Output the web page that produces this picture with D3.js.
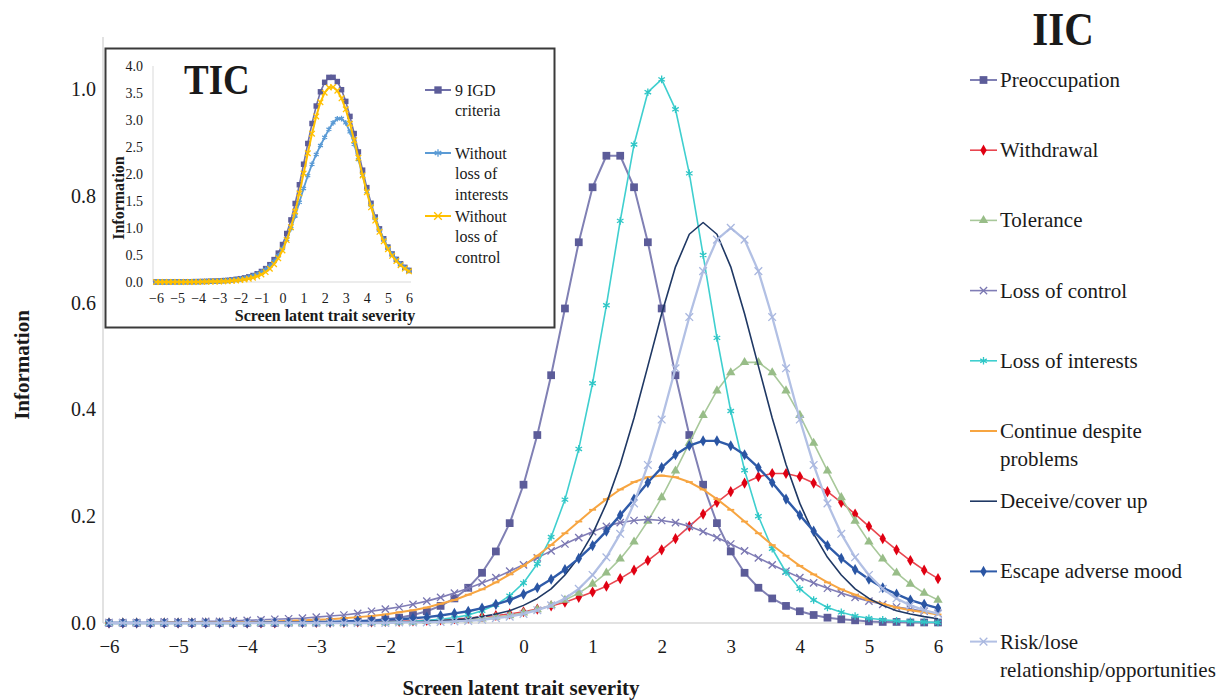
<!DOCTYPE html>
<html>
<head>
<meta charset="utf-8">
<script src="https://cdn.jsdelivr.net/npm/d3@7"></script>
<style>
  body { margin: 0; background: #fff; }
  text { font-family: "Liberation Serif", "Times New Roman", serif; fill: #1a1a1a; }
</style>
</head>
<body>
<svg id="chart" width="1229" height="700"></svg>
<script>
// latent trait grid (step 0.2)
const theta = [-6,-5.8,-5.6,-5.4,-5.2,-5,-4.8,-4.6,-4.4,-4.2,
  -4,-3.8,-3.6,-3.4,-3.2,-3,-2.8,-2.6,-2.4,-2.2,
  -2,-1.8,-1.6,-1.4,-1.2,-1,-0.8,-0.6,-0.4,-0.2,
  0,0.2,0.4,0.6,0.8,1,1.2,1.4,1.6,1.8,
  2,2.2,2.4,2.6,2.8,3,3.2,3.4,3.6,3.8,
  4,4.2,4.4,4.6,4.8,5,5.2,5.4,5.6,5.8,
  6];
const xTicks = [-6,-5,-4,-3,-2,-1,0,1,2,3,4,5,6];
const yTicks = [0, 0.2, 0.4, 0.6, 0.8, 1.0];
const insetYTicks = [0, 0.5, 1, 1.5, 2, 2.5, 3, 3.5, 4];

// item information curves (IIC)
const preoccupation = [0,0,0,0,0,0,0,0,0,0,
  0,0,0,0.001,0.001,0.001,0.002,0.002,0.003,0.005,
  0.007,0.010,0.015,0.022,0.032,0.046,0.066,0.094,0.134,0.187,
  0.259,0.352,0.464,0.589,0.713,0.816,0.875,0.875,0.816,0.713,
  0.589,0.464,0.352,0.259,0.187,0.134,0.094,0.066,0.046,0.032,
  0.022,0.015,0.010,0.007,0.005,0.003,0.002,0.002,0.001,0.001,
  0.001];
const withdrawal = [0,0,0,0,0,0,0,0,0,0,
  0,0,0,0.001,0.001,0.001,0.001,0.001,0.002,0.002,
  0.003,0.003,0.004,0.005,0.006,0.008,0.009,0.012,0.014,0.017,
  0.021,0.026,0.032,0.039,0.048,0.058,0.069,0.083,0.099,0.117,
  0.137,0.158,0.181,0.204,0.226,0.246,0.262,0.274,0.280,0.280,
  0.274,0.262,0.246,0.226,0.204,0.181,0.158,0.137,0.117,0.099,
  0.083];
const tolerance = [0,0,0,0,0,0,0,0,0,0,
  0,0,0,0,0,0,0,0,0.001,0.001,
  0.001,0.002,0.002,0.003,0.004,0.005,0.006,0.008,0.011,0.014,
  0.019,0.025,0.033,0.043,0.056,0.073,0.094,0.120,0.152,0.191,
  0.235,0.285,0.337,0.389,0.435,0.469,0.488,0.488,0.469,0.435,
  0.389,0.337,0.285,0.235,0.191,0.152,0.120,0.094,0.073,0.056,
  0.043];
const lossOfControl = [0.001,0.001,0.001,0.001,0.002,0.002,0.002,0.003,0.003,0.004,
  0.005,0.006,0.007,0.008,0.009,0.011,0.013,0.015,0.018,0.022,
  0.026,0.030,0.035,0.041,0.048,0.056,0.065,0.075,0.085,0.097,
  0.109,0.122,0.135,0.148,0.160,0.171,0.181,0.188,0.192,0.194,
  0.192,0.188,0.181,0.171,0.160,0.148,0.135,0.122,0.109,0.097,
  0.085,0.075,0.065,0.056,0.048,0.041,0.035,0.030,0.026,0.022,
  0.018];
const lossOfInterests = [0,0,0,0,0,0,0,0,0,0,
  0,0,0,0,0,0,0,0,0.001,0.001,
  0.001,0.002,0.003,0.005,0.007,0.010,0.015,0.023,0.034,0.051,
  0.075,0.111,0.161,0.231,0.326,0.449,0.595,0.753,0.896,0.994,
  1.018,0.962,0.842,0.689,0.534,0.397,0.286,0.200,0.139,0.095,
  0.064,0.043,0.029,0.020,0.013,0.009,0.006,0.004,0.003,0.002,
  0.001];
const continueDespite = [0,0,0,0,0.001,0.001,0.001,0.001,0.001,0.002,
  0.002,0.002,0.003,0.004,0.005,0.006,0.007,0.009,0.011,0.013,
  0.016,0.020,0.024,0.029,0.036,0.043,0.053,0.063,0.076,0.091,
  0.107,0.126,0.146,0.168,0.190,0.212,0.232,0.250,0.264,0.273,
  0.276,0.273,0.264,0.250,0.232,0.212,0.190,0.168,0.146,0.126,
  0.107,0.091,0.076,0.063,0.053,0.043,0.036,0.029,0.024,0.020,
  0.016];
const deceive = [0,0,0,0,0,0,0,0,0,0,
  0,0,0,0,0,0,0,0,0,0.001,
  0.001,0.001,0.002,0.003,0.004,0.006,0.008,0.012,0.017,0.023,
  0.033,0.046,0.064,0.090,0.123,0.167,0.224,0.297,0.384,0.481,
  0.579,0.667,0.728,0.750,0.728,0.667,0.579,0.481,0.384,0.297,
  0.224,0.167,0.123,0.090,0.064,0.046,0.033,0.023,0.017,0.012,
  0.008];
const escapeMood = [0,0,0,0,0,0,0,0,0,0,
  0,0.001,0.001,0.001,0.001,0.002,0.002,0.003,0.004,0.004,
  0.006,0.007,0.009,0.011,0.014,0.018,0.022,0.028,0.035,0.043,
  0.054,0.066,0.082,0.100,0.121,0.145,0.172,0.202,0.232,0.263,
  0.291,0.315,0.332,0.341,0.341,0.332,0.315,0.291,0.263,0.232,
  0.202,0.172,0.145,0.121,0.100,0.082,0.066,0.054,0.043,0.035,
  0.028];
const riskLose = [0,0,0,0,0,0,0,0,0,0,
  0,0,0,0,0,0,0,0,0,0,
  0,0.001,0.001,0.001,0.002,0.003,0.004,0.006,0.009,0.012,
  0.017,0.024,0.033,0.046,0.064,0.090,0.123,0.167,0.224,0.296,
  0.381,0.477,0.573,0.659,0.718,0.740,0.718,0.659,0.573,0.477,
  0.381,0.296,0.224,0.167,0.123,0.090,0.064,0.046,0.033,0.024,
  0.017];

// test information curves (TIC)
const ticAll = [0.001,0.001,0.001,0.001,0.003,0.003,0.003,0.004,0.004,0.006,
  0.007,0.009,0.011,0.015,0.017,0.021,0.025,0.030,0.040,0.049,
  0.061,0.076,0.095,0.120,0.153,0.195,0.248,0.321,0.415,0.535,
  0.694,0.898,1.150,1.454,1.801,2.181,2.565,2.935,3.259,3.522,
  3.698,3.789,3.790,3.712,3.561,3.345,3.067,2.749,2.409,2.071,
  1.748,1.458,1.203,0.985,0.801,0.647,0.520,0.419,0.337,0.271,
  0.215];
const ticNoInterests = [0.001,0.001,0.001,0.001,0.003,0.003,0.003,0.004,0.004,0.006,
  0.007,0.009,0.011,0.015,0.017,0.021,0.025,0.030,0.039,0.048,
  0.060,0.074,0.092,0.115,0.146,0.185,0.233,0.298,0.381,0.484,
  0.619,0.787,0.989,1.223,1.475,1.732,1.970,2.182,2.363,2.528,
  2.680,2.827,2.948,3.023,3.027,2.948,2.781,2.549,2.270,1.976,
  1.684,1.415,1.174,0.965,0.788,0.638,0.514,0.415,0.334,0.269,
  0.214];
const ticNoControl = [0,0,0,0,0.001,0.001,0.001,0.001,0.001,0.002,
  0.002,0.003,0.004,0.007,0.008,0.010,0.012,0.015,0.022,0.027,
  0.035,0.046,0.060,0.079,0.105,0.139,0.183,0.246,0.330,0.438,
  0.585,0.776,1.015,1.306,1.641,2.010,2.384,2.747,3.067,3.328,
  3.506,3.601,3.609,3.541,3.401,3.197,2.932,2.627,2.300,1.974,
  1.663,1.383,1.138,0.929,0.753,0.606,0.485,0.389,0.311,0.249,
  0.197];

const iicSeries = [
  {name: ["Preoccupation"], values: preoccupation, line: "#8080b4", fill: "#5c5c99", marker: "square", size: 60, lw: 2},
  {name: ["Withdrawal"], values: withdrawal, line: "#e8454f", fill: "#e00012", marker: "diamond", size: 36, lw: 1.6},
  {name: ["Tolerance"], values: tolerance, line: "#a8c89a", fill: "#98bd88", marker: "triangle", size: 38, lw: 1.6},
  {name: ["Loss of control"], values: lossOfControl, line: "#807db6", fill: "#7a77b2", marker: "times", size: 36, lw: 1.6},
  {name: ["Loss of interests"], values: lossOfInterests, line: "#3fcfcf", fill: "#2ec6c6", marker: "asterisk", size: 40, lw: 1.6},
  {name: ["Continue despite", "problems"], values: continueDespite, line: "#f7a541", fill: "#f7a541", marker: "dash", size: 0, lw: 2},
  {name: ["Deceive/cover up"], values: deceive, line: "#1f3864", fill: "#1f3864", marker: "none", size: 0, lw: 1.6},
  {name: ["Escape adverse mood"], values: escapeMood, line: "#2f5ba9", fill: "#2a55a3", marker: "diamond", size: 36, lw: 2.4},
  {name: ["Risk/lose", "relationship/opportunities"], values: riskLose, line: "#b2c0e4", fill: "#a9b7df", marker: "times", size: 40, lw: 2.3}
];

const ticSeries = [
  {name: ["9 IGD", "criteria"], values: ticAll, line: "#7070a9", fill: "#5c5c99", marker: "square", size: 30, lw: 1.6},
  {name: ["Without", "loss of", "interests"], values: ticNoInterests, line: "#5b9bd5", fill: "#5b9bd5", marker: "asterisk", size: 22, lw: 1.8},
  {name: ["Without", "loss of", "control"], values: ticNoControl, line: "#ffc000", fill: "#ffc000", marker: "times", size: 22, lw: 2}
];

const svg = d3.select("#chart");

function drawMarker(g, s) {
  if (s.marker === "none") return;
  if (s.marker === "dash") {
    g.append("path").attr("d", "M-3.5,0H3.5").attr("stroke", s.fill).attr("stroke-width", 1.8);
    return;
  }
  const types = {square: d3.symbolSquare, diamond: d3.symbolDiamond, triangle: d3.symbolTriangle,
    times: d3.symbolTimes, asterisk: d3.symbolAsterisk};
  const p = g.append("path").attr("d", d3.symbol(types[s.marker], s.size)());
  if (s.marker === "times" || s.marker === "asterisk") {
    p.attr("fill", "none").attr("stroke", s.fill).attr("stroke-width", 1.3);
  } else {
    p.attr("fill", s.fill);
  }
}

function drawSeries(root, list, x, y) {
  const line = d3.line().x((d, i) => x(theta[i])).y(d => y(d));
  list.forEach(s => {
    const g = root.append("g");
    g.append("path").datum(s.values).attr("d", line)
      .attr("fill", "none").attr("stroke", s.line).attr("stroke-width", s.lw)
      .attr("stroke-linejoin", "round");
    s.values.forEach((v, i) => {
      const m = g.append("g").attr("transform", `translate(${x(theta[i])},${y(v)})`);
      drawMarker(m, s);
    });
  });
}

// ---------- main IIC chart ----------
const x = d3.scaleLinear().domain([-6, 6]).range([109, 938]);
const y = d3.scaleLinear().domain([0, 1.1]).range([623, 35.6]);

svg.append("line").attr("x1", 103).attr("x2", 103).attr("y1", 37).attr("y2", 623)
  .attr("stroke", "#d9d9d9").attr("stroke-width", 1.5);
svg.append("line").attr("x1", 103).attr("x2", 941).attr("y1", 623).attr("y2", 623)
  .attr("stroke", "#d9d9d9").attr("stroke-width", 1.5);

svg.append("g").attr("transform", "translate(0,623)")
  .call(d3.axisBottom(x).tickValues(xTicks).tickSize(0).tickPadding(17))
  .attr("font-family", "Liberation Serif").attr("font-size", 19).attr("color", "#1a1a1a")
  .call(g => g.select(".domain").remove());

svg.append("g").attr("transform", "translate(103,0)")
  .call(d3.axisLeft(y).tickValues(yTicks).tickFormat(d3.format(".1f")).tickSize(0).tickPadding(7))
  .attr("font-family", "Liberation Serif").attr("font-size", 20).attr("color", "#1a1a1a")
  .call(g => g.select(".domain").remove());

svg.append("text").attr("transform", "translate(22,365) rotate(-90)")
  .attr("text-anchor", "middle").attr("dy", "0.35em")
  .attr("font-size", 21).attr("font-weight", "bold").text("Information");
svg.append("text").attr("x", 521).attr("y", 695).attr("text-anchor", "middle")
  .attr("font-size", 21).attr("font-weight", "bold").text("Screen latent trait severity");

drawSeries(svg.append("g"), iicSeries, x, y);

// IIC legend
svg.append("text").attr("transform", "translate(1063,45) scale(1,1.12)").attr("text-anchor", "middle")
  .attr("font-size", 41).attr("font-weight", "bold").text("IIC");
iicSeries.forEach((s, i) => {
  const cy = 80 + i * 70.2;
  const g = svg.append("g");
  g.append("line").attr("x1", 970).attr("x2", 997).attr("y1", cy).attr("y2", cy)
    .attr("stroke", s.line).attr("stroke-width", Math.min(s.lw, 2));
  drawMarker(g.append("g").attr("transform", `translate(983.5,${cy})`), s);
  s.name.forEach((t, k) => {
    g.append("text").attr("x", 1000).attr("y", cy + 7 + k * 28).attr("font-size", 21).text(t);
  });
});

// ---------- inset TIC chart ----------
const inset = svg.append("g");
inset.append("rect").attr("x", 105.5).attr("y", 48.5).attr("width", 449).attr("height", 279)
  .attr("fill", "#fff").attr("stroke", "#3a3a3a").attr("stroke-width", 2);

const ix = d3.scaleLinear().domain([-6, 6]).range([156, 409]);
const iy = d3.scaleLinear().domain([0, 4]).range([282, 66]);

inset.append("line").attr("x1", 153).attr("x2", 153).attr("y1", 66).attr("y2", 282)
  .attr("stroke", "#d9d9d9").attr("stroke-width", 1);
inset.append("line").attr("x1", 153).attr("x2", 411).attr("y1", 282).attr("y2", 282)
  .attr("stroke", "#d9d9d9").attr("stroke-width", 1);

inset.append("g").attr("transform", "translate(0,282)")
  .call(d3.axisBottom(ix).tickValues(xTicks).tickSize(0).tickPadding(11))
  .attr("font-family", "Liberation Serif").attr("font-size", 14).attr("color", "#1a1a1a")
  .call(g => g.select(".domain").remove());
inset.append("g").attr("transform", "translate(153,0)")
  .call(d3.axisLeft(iy).tickValues(insetYTicks).tickFormat(d3.format(".1f")).tickSize(0).tickPadding(10))
  .attr("font-family", "Liberation Serif").attr("font-size", 14).attr("color", "#1a1a1a")
  .call(g => g.select(".domain").remove());

inset.append("text").attr("transform", "translate(118,198) rotate(-90)")
  .attr("text-anchor", "middle").attr("dy", "0.35em")
  .attr("font-size", 16).attr("font-weight", "bold").text("Information");
inset.append("text").attr("x", 325).attr("y", 321).attr("text-anchor", "middle")
  .attr("font-size", 16).attr("font-weight", "bold").text("Screen latent trait severity");
inset.append("text").attr("transform", "translate(184,94) scale(1,1.15)")
  .attr("font-size", 37).attr("font-weight", "bold").text("TIC");

drawSeries(inset.append("g"), ticSeries, ix, iy);

const insetRows = [90, 153, 216];
ticSeries.forEach((s, i) => {
  const cy = insetRows[i];
  const g = inset.append("g");
  g.append("line").attr("x1", 425).attr("x2", 451).attr("y1", cy).attr("y2", cy)
    .attr("stroke", s.line).attr("stroke-width", 2);
  drawMarker(g.append("g").attr("transform", `translate(438,${cy})`), Object.assign({}, s, {size: s.size * 1.8}));
  s.name.forEach((t, k) => {
    g.append("text").attr("x", 455).attr("y", cy + 5.5 + k * 20.7).attr("font-size", 16).text(t);
  });
});
</script>
</body>
</html>
